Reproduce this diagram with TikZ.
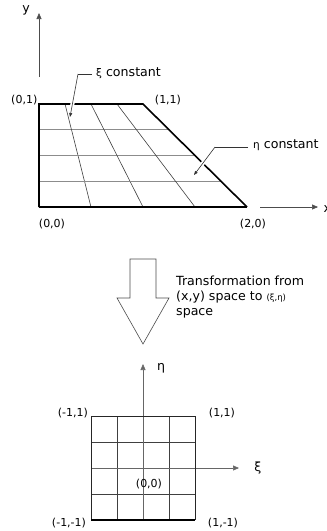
\documentclass[tikz,border=0pt]{standalone}
\usepackage{fontspec}
\setmainfont{DejaVu Sans}
\usetikzlibrary{calc,arrows.meta}
\begin{document}
\begin{tikzpicture}[x=1pt,y=-1pt,
  lbl/.style={inner sep=0pt,font=\fontsize{11}{15}\selectfont},
  txt/.style={inner sep=0pt,font=\fontsize{12.6}{15}\selectfont},
  border/.style={draw=black,line width=1.6pt},
  gridd/.style={draw=black!75,line width=0.6pt},
  gridl/.style={draw=black!45,line width=0.7pt},
  axis/.style={draw=black!60,line width=0.6pt,-{Triangle[length=6pt,width=5pt]}},
  leader/.style={draw=black!80,line width=0.6pt},
  halo/.style={preaction={draw=white,line width=4pt,shorten >=5pt,shorten <=3pt}},
  tip/.style={-{Triangle[length=4pt,width=3pt]}}]
\useasboundingbox (0,0) rectangle (327,531);
% ---------- top: physical element ----------
\coordinate (A) at (39,104);
\coordinate (B) at (143,104);
\coordinate (C) at (247,207);
\coordinate (D) at (39,207);
\foreach \t in {0.25,0.5,0.75}{
  \draw[gridl] ($(A)!\t!(D)$) -- ($(B)!\t!(C)$);
  \draw[gridd] ($(A)!\t!(B)$) -- ($(D)!\t!(C)$);
}
\draw[border] (D) -- (A) -- (B) -- (C);
\draw[border,line width=1.2pt] (D) -- (C);
% axes
\coordinate (y0) at (39,77);
\coordinate (y1) at (39,13);
\draw[axis,draw=black!70] (y0) -- (y1);
\node[txt] (ylab) at (26,10) {y};
\coordinate (x0) at (260,207);
\coordinate (x1) at (318,207);
\draw[axis,draw=black!70] (x0) -- (x1);
\node[txt,anchor=west] (xlab) at (323.5,209) {x};
% corner labels
\node[lbl,anchor=east] (l01) at (37.5,100) {(0,1)};
\node[lbl] (l11) at (168,100) {(1,1)};
\node[lbl] (l00) at (52,224) {(0,0)};
\node[lbl] (l20) at (253,224) {(2,0)};
% leaders
\node[txt,anchor=west] (xic) at (96,73) {{\fontsize{10.5}{15}\selectfont ξ} constant};
\coordinate (xk) at (78,74);
\coordinate (xt) at (70,117);
\draw[leader] (xic.west) ++(-4,1) -- (xk);
\draw[leader,halo,tip] (xk) -- (xt);
\node[txt,anchor=west] (etac) at (253,145) {{\fontsize{10.5}{15}\selectfont η} constant};
\coordinate (ek) at (215,147);
\coordinate (et) at (194,175);
\draw[leader] (etac.west) ++(-5,2) -- (ek);
\draw[leader,halo,tip] (ek) -- (et);
% ---------- transformation arrow ----------
\draw[black!70,line width=0.6pt,fill=white]
  (130,259) -- (156,259) -- (156,298) -- (169,298) -- (143,344)
  -- (117,298) -- (130,298) -- cycle;
\node[txt,anchor=north west,align=left] (trans) at (176,276)
  {Transformation from\\(x,y) space to {\fontsize{8.5}{15}\selectfont (ξ,η)}\\space};
% ---------- bottom: parent element ----------
\coordinate (P) at (91,416);
\coordinate (Q) at (195,416);
\coordinate (R) at (195,520);
\coordinate (S) at (91,520);
\foreach \t in {0.25,0.75}{
  \draw[gridd] ($(P)!\t!(S)$) -- ($(Q)!\t!(R)$);
  \draw[gridd] ($(P)!\t!(Q)$) -- ($(S)!\t!(R)$);
}
\coordinate (e0) at (143,520);
\coordinate (e1) at (143,364);
\draw[axis] (e0) -- (e1);
\coordinate (k0) at (91,468);
\coordinate (k1) at (239,468);
\draw[axis] (k0) -- (k1);
\draw[black!85,line width=0.9pt] (S) -- (P) -- (Q) -- (R);
\draw[black,line width=1.4pt] (S) -- (R);
\node[txt] (etalab) at (161,368) {η};
\node[txt] (xilab) at (258,468) {ξ};
\node[lbl,anchor=east] (m11) at (88,413) {(-1,1)};
\node[lbl] (p11) at (222,413) {(1,1)};
\node[lbl] (o00) at (149,484) {(0,0)};
\node[lbl] (mm) at (69,523) {(-1,-1)};
\node[lbl] (pm) at (223,523) {(1,-1)};
\end{tikzpicture}
\end{document}
